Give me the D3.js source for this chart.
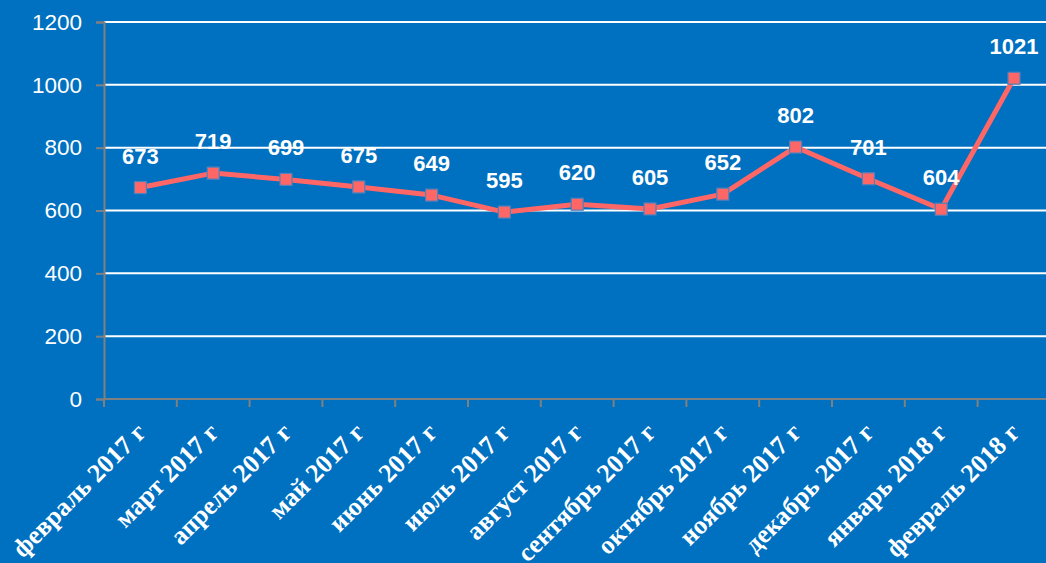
<!DOCTYPE html>
<html><head><meta charset="utf-8">
<script src="https://cdn.jsdelivr.net/npm/d3@7"></script>
<style>html,body{margin:0;padding:0;background:#0070C0;overflow:hidden}</style>
</head><body>
<svg id="c" width="1046" height="563"></svg>
<script>
const categories = ["февраль 2017 г","март 2017 г","апрель 2017 г","май 2017 г","июнь 2017 г","июль 2017 г","август 2017 г","сентябрь 2017 г","октябрь 2017 г","ноябрь 2017 г","декабрь 2017 г","январь 2018 г","февраль 2018 г"];
const values = [673,719,699,675,649,595,620,605,652,802,701,604,1021];
const yTicks = [0,200,400,600,800,1000,1200];

(function(){
const svg = d3.select("#c");
svg.append("rect").attr("width",1046).attr("height",563).attr("fill","#0070C0");
const mLeft = 104, mTop = 22, mBottom = 399;
const x = d3.scaleBand().domain(categories).range([mLeft, mLeft + 13*72.8]);
const y = d3.scaleLinear().domain([0,1200]).range([mBottom, mTop]);

// gridlines
svg.append("g").selectAll("line").data(yTicks.filter(d=>d>0)).join("line")
  .attr("x1",mLeft).attr("x2",1046).attr("y1",d=>y(d)).attr("y2",d=>y(d))
  .attr("stroke","#ffffff").attr("stroke-width",2);

// y axis
const ya = svg.append("g").attr("transform",`translate(${mLeft},0)`)
  .call(d3.axisLeft(y).tickValues(yTicks).tickSize(8).tickPadding(14).tickFormat(d3.format("d")));
ya.select(".domain").attr("stroke","#808080").attr("stroke-width",2);
ya.selectAll(".tick line").attr("stroke","#808080").attr("stroke-width",2);
ya.selectAll("text").attr("fill","#ffffff").style("font-family","'Liberation Sans', Arial, sans-serif").style("font-size","22.5px");

// x axis
const xa = svg.append("g").attr("transform",`translate(0,${mBottom})`)
  .call(d3.axisBottom(x).tickSize(0).tickFormat(""));
xa.select(".domain").attr("stroke","#808080").attr("stroke-width",2).attr("d",`M${mLeft},0H1046`);
const bounds = d3.range(0,14).map(i => mLeft + i*x.bandwidth());
xa.append("g").selectAll("line").data(bounds).join("line")
  .attr("x1",d=>d).attr("x2",d=>d).attr("y1",0).attr("y2",8)
  .attr("stroke","#808080").attr("stroke-width",2);
svg.append("g").selectAll("text").data(categories).join("text")
  .attr("transform",d=>`translate(${x(d)+x.bandwidth()/2+7},${mBottom+35}) rotate(-45)`)
  .attr("text-anchor","end")
  .attr("fill","#ffffff")
  .style("font-family","'Liberation Serif', 'Times New Roman', serif")
  .style("font-weight","bold").style("font-size","26px")
  .text(d=>d);

// line
const cx = d => x(d) + x.bandwidth()/2;
const line = d3.line().x((d,i)=>cx(categories[i])).y(d=>y(d));
svg.append("path").datum(values).attr("d",line)
  .attr("fill","none").attr("stroke","#FF6666").attr("stroke-width",5).attr("stroke-linejoin","round");

svg.append("g").selectAll("rect").data(values).join("rect")
  .attr("x",(d,i)=>cx(categories[i])-6).attr("y",d=>y(d)-6)
  .attr("width",12).attr("height",12)
  .attr("fill","#FF6666").attr("stroke","#4F81BD").attr("stroke-width",1.2);

svg.append("g").selectAll("text").data(values).join("text")
  .attr("x",(d,i)=>cx(categories[i])).attr("y",d=>y(d)-24)
  .attr("text-anchor","middle").attr("fill","#ffffff")
  .style("font-family","'Liberation Sans', Arial, sans-serif")
  .style("font-weight","bold").style("font-size","22px")
  .text(d=>d);
})();
</script>
</body></html>
